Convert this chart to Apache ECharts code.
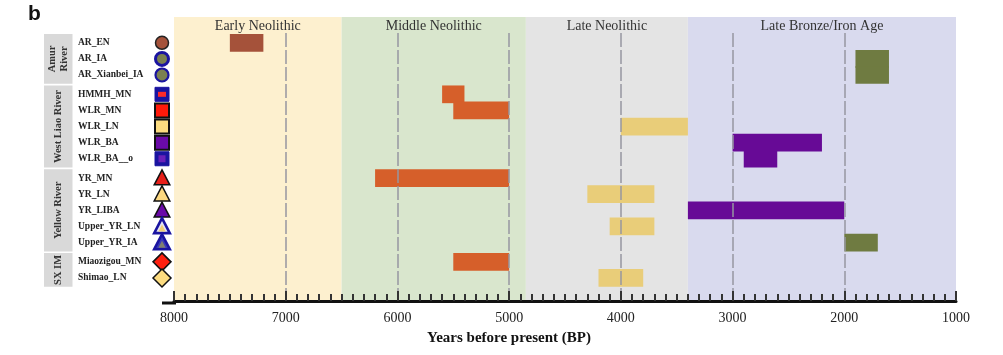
<!DOCTYPE html>
<html><head><meta charset="utf-8">
<script src="https://cdn.jsdelivr.net/npm/echarts@6/dist/echarts.min.js"></script>
<style>html,body{margin:0;padding:0;background:#fff}#c{width:1003px;height:355px}</style>
</head><body><div id="c"></div>
<script>
// ---------------- data ----------------
const categories = ['AR_EN','AR_IA','AR_Xianbei_IA','HMMH_MN','WLR_MN','WLR_LN','WLR_BA','WLR_BA__o','YR_MN','YR_LN','YR_LIBA','Upper_YR_LN','Upper_YR_IA','Miaozigou_MN','Shimao_LN'];
const groupOf = [0,0,0,1,1,1,1,1,2,2,2,2,2,3,3];
const groupNames = ['Amur\nRiver','West Liao River','Yellow River','SX IM'];
const startBP = [7500,1900,1900,5600,5500,4000,3000,2900,6200,4300,3400,4100,2000,5500,4200];
const endBP   = [7200,1600,1600,5400,5000,3400,2200,2600,5000,3700,2000,3700,1700,5000,3800];
const periodNames = ['Early Neolithic','Middle Neolithic','Late Neolithic','Late Bronze/Iron Age'];
const periodStart = [8000,6500,4850,3400];
const periodEnd   = [6500,4850,3400,1000];
const gridLinesBP = [7000,6000,5000,4000,3000,2000];
const xTicks = [8000,7000,6000,5000,4000,3000,2000,1000];

// ---------------- styles ----------------
const C = {brown:'#a5523a', olive:'#6f7b41', orange:'#d65f2a', yellow:'#e9cd79', purple:'#670a96'};
const barColor = [C.brown,C.olive,C.olive,C.orange,C.orange,C.yellow,C.purple,C.purple,C.orange,C.yellow,C.purple,C.yellow,C.olive,C.orange,C.yellow];
const periodColors = ['#fdf0cf','#d9e6cd','#e4e4e4','#d9daee'];
const navy = '#1a14a0';
const symShape = ['circle','circle','circle','rect','rect','rect','rect','rect','tri','tri','tri','tri','tri','diamond','diamond'];
const symFill  = ['#a5523a','#7b8050','#7b8050',navy,'#ff1a0a','#fcdc80','#6a0aa8',navy,'#e8201a','#fcd880','#6a0aa8','#e4e4f4','#3a3ab8','#ff2010','#fcdc80'];
const symStroke= ['#222',navy,navy,navy,'#111','#111','#111',navy,'#111','#111','#111',navy,navy,'#111','#111'];
const symLw    = [1.5,3,2.2,1,2,2,2,1,1.5,1.5,1.5,2.6,2.6,1.5,1.5];
const symInner = [null,null,null,'#ff2a2a',null,null,null,'#6a20b8',null,null,null,'#f0cf78','#808070',null,null];

const GAP = 0.2, HALF = 0.55;
const pos = categories.map((c,i)=> i + groupOf[i]*GAP);
const yMin = -1.6, yMax = pos[pos.length-1] + 1.43;
const serif = "'Liberation Serif','Times New Roman',serif";

const barData = categories.map((c,i)=>[startBP[i], endBP[i], pos[i], i]);
const labelData = categories.map((c,i)=>[8000, pos[i], i]);
const groupData = groupNames.map((g,gi)=>{
  const idx = groupOf.map((v,i)=>v===gi?i:-1).filter(v=>v>=0);
  return [8000, pos[idx[0]], pos[idx[idx.length-1]], gi];
});

function shapeEl(shape, cx, cy, s, fill, stroke, lw){
  if(shape==='circle') return {type:'circle', shape:{cx, cy, r:s/2}, style:{fill, stroke, lineWidth:lw}};
  if(shape==='rect') return {type:'rect', shape:{x:cx-s/2, y:cy-s/2, width:s, height:s}, style:{fill, stroke, lineWidth:lw}};
  if(shape==='tri') return {type:'polygon', shape:{points:[[cx,cy-s*0.55],[cx+s*0.52,cy+s*0.45],[cx-s*0.52,cy+s*0.45]]}, style:{fill, stroke, lineWidth:lw, lineJoin:'miter'}};
  return {type:'polygon', shape:{points:[[cx,cy-s*0.6],[cx+s*0.6,cy],[cx,cy+s*0.6],[cx-s*0.6,cy]]}, style:{fill, stroke, lineWidth:lw}};
}

const chart = echarts.init(document.getElementById('c'), null, {renderer:'canvas'});
chart.setOption({
  animation:false,
  grid:{left:174, right:47, top:17, bottom:54},
  xAxis:{type:'value', min:1000, max:8000, interval:1000, inverse:true, position:'bottom', z:10,
    axisLine:{show:true, onZero:false, lineStyle:{color:'#111', width:3}},
    axisTick:{show:true, inside:true, length:10, lineStyle:{color:'#333', width:2}},
    minorTick:{show:true, splitNumber:10, length:7, lineStyle:{color:'#333', width:2}},
    splitLine:{show:false},
    axisLabel:{margin:10, fontFamily:serif, fontSize:14, color:'#222',
      formatter:v=> xTicks.includes(v) ? String(v) : ''}
  },
  yAxis:{type:'value', min:yMin, max:yMax, inverse:true, show:false},
  graphic:[
    {type:'text', left:28, top:4, style:{text:'b', font:'bold 21px "Liberation Sans", Arial, sans-serif', fill:'#111'}},
    {type:'rect', shape:{x:162, y:301.5, width:14, height:3}, style:{fill:'#111'}},
    {type:'text', x:509, y:338, style:{text:'Years before present (BP)', font:'bold 15px '+serif, fill:'#111', textAlign:'center', textVerticalAlign:'middle'}}
  ],
  series:[
    {type:'custom', name:'periods', silent:true, clip:false, z:1,
      data:[[8000,0]], renderItem:()=>({type:'group', children:[]}),
      markArea:{silent:true,
        label:{show:true, position:'insideTop', distance:2, fontFamily:serif, fontSize:14, color:'#333'},
        data: periodNames.map((n,i)=>[{name:n, xAxis:periodStart[i], itemStyle:{color:periodColors[i]}},{xAxis:periodEnd[i]}])
      },
      markLine:{silent:true, symbol:'none', label:{show:false},
        lineStyle:{type:[14,3], color:'rgba(150,150,160,0.75)', width:2},
        data: gridLinesBP.map(v=>[{coord:[v,-0.6]},{coord:[v,yMax]}])
      }
    },
    {type:'custom', name:'bars', z:3, clip:false,
      encode:{x:[0,1], y:2},
      data:barData,
      renderItem:function(params, api){
        const s = api.coord([api.value(0), api.value(2)]);
        const e = api.coord([api.value(1), api.value(2)]);
        const h = api.size([0, 2*HALF])[1];
        return {type:'rect', shape:{x:Math.min(s[0],e[0]), y:s[1]-h/2, width:Math.abs(e[0]-s[0]), height:h},
          style:{fill:barColor[api.value(3)]}};
      }
    },
    {type:'custom', name:'groups', z:3, clip:false, silent:true,
      encode:{x:0, y:[1,2]},
      data:groupData,
      renderItem:function(params, api){
        const x0 = params.coordSys.x;
        const a = api.coord([api.value(0), api.value(1)]);
        const b = api.coord([api.value(0), api.value(2)]);
        const h = api.size([0, HALF])[1];
        const top = a[1]-h, bot = b[1]+h;
        const gi = api.value(3);
        return {type:'group', children:[
          {type:'rect', shape:{x:x0-130, y:top, width:28.5, height:bot-top}, style:{fill:'#d9d9d9'}},
          {type:'text', x:x0-115.5, y:(top+bot)/2, rotation:Math.PI/2,
            style:{text:groupNames[gi], font:'bold 10.5px '+serif, fill:'#333', textAlign:'center', textVerticalAlign:'middle', lineHeight:12}}
        ]};
      }
    },
    {type:'custom', name:'labels', z:4, clip:false, silent:true,
      encode:{x:0, y:1},
      data:labelData,
      renderItem:function(params, api){
        const x0 = params.coordSys.x;
        const p = api.coord([api.value(0), api.value(1)]);
        const i = api.value(2);
        const cx = x0-12, cy = p[1];
        const kids = [
          {type:'text', x:x0-96, y:cy, style:{text:categories[i], font:'bold 9.5px '+serif, fill:'#222', textAlign:'left', textVerticalAlign:'middle'}},
          shapeEl(symShape[i], cx, cy, symShape[i]==='rect'?14:(symShape[i]==='circle'?13:15), symFill[i], symStroke[i], symLw[i])
        ];
        if(symInner[i]){
          if(symShape[i]==='rect') kids.push({type:'rect', shape:{x:cx-(i===3?4:3.5), y:cy-(i===3?2.5:3.5), width:i===3?8:7, height:i===3?5:7}, style:{fill:symInner[i]}});
          else kids.push(shapeEl('tri', cx, cy+2, 7, symInner[i], null, 0));
        }
        return {type:'group', children:kids};
      }
    }
  ]
});
</script></body></html>
